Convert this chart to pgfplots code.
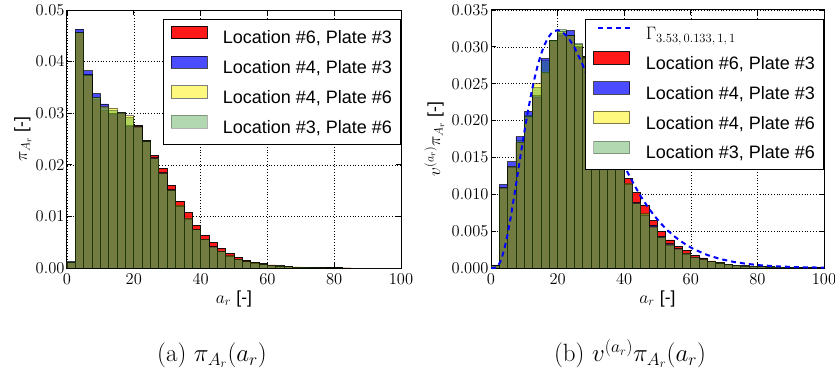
\RequirePackage{fix-cm}
\documentclass[border=0pt]{standalone}
\usepackage{fontspec}
\usepackage{pgfplots}
\usepackage{pgfplotstable}
\pgfplotsset{compat=1.18}
\newfontfamily\sans{Liberation Sans}

\newcommand\ticksize{\fontsize{16.5}{19.8}\selectfont}
\newcommand\labsize{\fontsize{17.5}{21}\selectfont}
\newcommand\legsize{\sans\fontsize{18}{21.6}\selectfont}

% histogram heights per 2.5-wide bin (left edge), last row closes the final bin
\pgfplotstableread{
x      r        b        y        g
0      0.0011   0.0012   0.0011   0.0011
2.5    0.0457   0.0463   0.0456   0.0457
5      0.0375   0.0382   0.0374   0.0375
7.5    0.0327   0.0338   0.0330   0.0331
10     0.0305   0.0318   0.0313   0.0311
12.5   0.0297   0.0300   0.0310   0.0306
15     0.0300   0.0302   0.0301   0.0300
17.5   0.0274   0.0276   0.0295   0.0292
20     0.0276   0.0275   0.0274   0.0272
22.5   0.0247   0.0246   0.0245   0.0246
25     0.0218   0.0214   0.0213   0.0212
27.5   0.0193   0.0185   0.0184   0.0183
30     0.0160   0.0152   0.0151   0.0151
32.5   0.0129   0.0120   0.0122   0.0120
35     0.0107   0.0096   0.0097   0.0094
37.5   0.0082   0.0075   0.0075   0.0074
40     0.0063   0.0056   0.0056   0.0055
42.5   0.0049   0.0041   0.0041   0.0040
45     0.0038   0.0033   0.0033   0.0032
47.5   0.0028   0.0023   0.0024   0.0023
50     0.0021   0.0017   0.0017   0.0016
52.5   0.0015   0.0012   0.0013   0.0012
55     0.0011   0.0009   0.0010   0.0009
57.5   0.00084  0.0007   0.0007   0.0007
60     0.0006   0.0005   0.0005   0.0005
62.5   0.00045  0.0004   0.0004   0.0004
65     0.0003   0.00027  0.00028  0.00027
67.5   0.0002   0.00018  0.00018  0.00018
70     0.00015  0.00013  0.00013  0.00013
72.5   0.0001   0.00009  0.00009  0.00009
75     0.00007  0.00006  0.00006  0.00006
77.5   0.00005  0.00004  0.00004  0.00004
80     0.00002  0.00002  0.00002  0.00002
82.5   0.00001  0.00001  0.00001  0.00001
85     0        0        0        0
87.5   0        0        0        0
90     0        0        0        0
92.5   0        0        0        0
95     0        0        0        0
97.5   0        0        0        0
100    0        0        0        0
}\histA

\pgfplotstableread{
x      r        b        y        g
0      0.0003   0.00035  0.0003   0.0003
2.5    0.0109   0.0113   0.0109   0.0108
5      0.0138   0.0144   0.0138   0.0137
7.5    0.0170   0.0178   0.0171   0.0173
10     0.0204   0.0212   0.0205   0.0207
12.5   0.0232   0.0234   0.0250   0.0245
15     0.0264   0.0284   0.0266   0.0281
17.5   0.0308   0.0309   0.0309   0.0309
20     0.0316   0.0318   0.0321   0.0324
22.5   0.0316   0.0322   0.0315   0.0316
25     0.0299   0.0300   0.0303   0.0305
27.5   0.0287   0.0286   0.0286   0.0285
30     0.0262   0.0259   0.0259   0.0258
32.5   0.0230   0.0226   0.0225   0.0225
35     0.0192   0.0186   0.0185   0.0185
37.5   0.0153   0.0145   0.0144   0.0144
40     0.0122   0.0114   0.0115   0.0113
42.5   0.0102   0.0089   0.0088   0.0087
45     0.0085   0.0073   0.0074   0.0072
47.5   0.0064   0.0058   0.0056   0.0055
50     0.0049   0.0043   0.0042   0.0042
52.5   0.0038   0.0033   0.0032   0.0031
55     0.0029   0.0026   0.0026   0.0025
57.5   0.0024   0.0020   0.0020   0.0019
60     0.0017   0.0015   0.0015   0.0014
62.5   0.00136  0.0012   0.0012   0.0011
65     0.00095  0.00088  0.0009   0.00085
67.5   0.0007   0.00066  0.00066  0.00064
70     0.00054  0.0005   0.0005   0.0005
72.5   0.0004   0.00037  0.00037  0.00036
75     0.0003   0.00028  0.00028  0.00027
77.5   0.00027  0.00024  0.00024  0.00023
80     0.0002   0.00018  0.00018  0.00018
82.5   0.00015  0.00014  0.00014  0.00014
85     0.00012  0.00011  0.00011  0.00011
87.5   0.0001   0.00009  0.00009  0.00009
90     0.00008  0.00007  0.00007  0.00007
92.5   0.00006  0.00005  0.00005  0.00005
95     0.00005  0.00004  0.00004  0.00004
97.5   0.00004  0.00003  0.00003  0.00003
100    0        0        0        0
}\histB

% fitted gamma density
\pgfplotstableread{
x    y
0    0
1    0
2    0.000206
3    0.001041
4    0.002540
5    0.004604
6    0.007087
7    0.009843
8    0.012729
9    0.015620
10   0.018424
11   0.021052
12   0.023459
13   0.025594
14   0.027436
15   0.028976
16   0.030205
17   0.031134
18   0.031772
19   0.032146
20   0.032253
21   0.032164
23   0.031377
25   0.029969
27   0.028122
29   0.025998
31   0.023730
33   0.021412
35   0.019132
37   0.016945
39   0.014890
41   0.012995
43   0.011267
45   0.009715
47   0.008332
49   0.007112
51   0.006045
53   0.005116
55   0.004314
57   0.003626
59   0.003037
61   0.002536
65   0.001754
69   0.001201
73   0.000815
77   0.000549
81   0.000367
86   0.000220
91   0.000131
96   0.000077
100  0.000052
}\gammafit

\pgfplotsset{
  bars/.style n args={2}{ybar interval, fill=#1, draw=black,
    fill opacity=#2, draw opacity=#2, line width=0.8pt,
    legend image code/.code={\draw[fill=#1, draw=black, fill opacity=#2,
      draw opacity=#2, line width=0.8pt] (0pt,0.5pt) rectangle (36pt,13pt);}},
  panel/.style={
    scale only axis, height=258pt,
    xmin=0, xmax=100, ymin=0,
    xtick={0,20,...,100},
    grid=major,
    major grid style={black, line width=0.6pt, dash pattern=on 0.8pt off 2pt},
    tick align=inside, major tick length=5pt,
    tick style={black, line width=0.8pt},
    axis line style={line width=1pt},
    tick label style={font=\ticksize},
    scaled y ticks=false,
    yticklabel style={/pgf/number format/fixed,
      /pgf/number format/fixed zerofill, xshift=1pt},
    xticklabel style={yshift=-2pt},
    xlabel={$a_r$ {\sans[-]}},
    every axis x label/.style={at={(axis description cs:0.5,0)},
      anchor=base, yshift=-35pt, font=\labsize},
    legend style={at={(1,1)}, anchor=north east, xshift=-0.5pt, yshift=-9pt,
      draw=black, line width=1pt, fill=white,
      inner xsep=8pt, inner ysep=6.3pt, row sep=7.1pt,
      nodes={inner sep=0pt, text height=14pt, text depth=4.5pt, font=\legsize},
      /tikz/every odd column/.append style={column sep=15pt}},
    legend cell align=left,
  },
}

\begin{document}
\begin{tikzpicture}
\path[use as bounding box] (0,0) rectangle (835pt,-374pt);

\begin{axis}[panel, at={(67pt,-268pt)}, anchor=south west, width=334pt,
  ymax=0.05, ytick={0,0.01,...,0.05},
  yticklabel style={/pgf/number format/precision=2},
  ylabel={$\pi_{A_r}$ {\sans[-]}},
  every axis y label/.style={at={(axis description cs:0,0.5)},
    xshift=-40pt, rotate=90, anchor=base, font=\labsize}]
\addplot[bars={red}{0.9}]      table[x=x, y=r] {\histA};
\addlegendentry{Location \#6, Plate \#3}
\addplot[bars={blue}{0.7}]     table[x=x, y=b] {\histA};
\addlegendentry{Location \#4, Plate \#3}
\addplot[bars={yellow}{0.5}]   table[x=x, y=y] {\histA};
\addlegendentry{Location \#4, Plate \#6}
\addplot[bars={green!50!black}{0.3}] table[x=x, y=g] {\histA};
\addlegendentry{Location \#3, Plate \#6}
\end{axis}

\begin{axis}[panel, at={(491pt,-268pt)}, anchor=south west, width=333pt,
  ymax=0.035, ytick={0,0.005,...,0.035},
  yticklabel style={/pgf/number format/precision=3},
  ylabel={$v^{(a_r)}\pi_{A_r}$ {\sans[-]}},
  every axis y label/.style={at={(axis description cs:0,0.5)},
    xshift=-51pt, rotate=90, anchor=base, font=\labsize}]
\addlegendimage{legend image code/.code={\draw[blue, line width=2pt,
  dash pattern=on 5pt off 4pt] (4pt,6.75pt) -- (36pt,6.75pt);}}
\addlegendentry{$\Gamma_{3.53,\,0.133,\,1,\,1}$}
\addplot[bars={red}{0.9}]      table[x=x, y=r] {\histB};
\addlegendentry{Location \#6, Plate \#3}
\addplot[bars={blue}{0.7}]     table[x=x, y=b] {\histB};
\addlegendentry{Location \#4, Plate \#3}
\addplot[bars={yellow}{0.5}]   table[x=x, y=y] {\histB};
\addlegendentry{Location \#4, Plate \#6}
\addplot[bars={green!50!black}{0.3}] table[x=x, y=g] {\histB};
\addlegendentry{Location \#3, Plate \#6}
\addplot[blue, line width=2pt, dash pattern=on 5pt off 4pt, forget plot]
  table[x=x, y=y] {\gammafit};
\end{axis}

\node[anchor=base, font=\fontsize{25}{30}\selectfont] at (212pt,-361.5pt)
  {(a)~$\pi_{A_r}(a_r)$};
\node[anchor=base, font=\fontsize{25}{30}\selectfont] at (630pt,-361.5pt)
  {(b)~$v^{(a_r)}\pi_{A_r}(a_r)$};
\end{tikzpicture}
\end{document}
